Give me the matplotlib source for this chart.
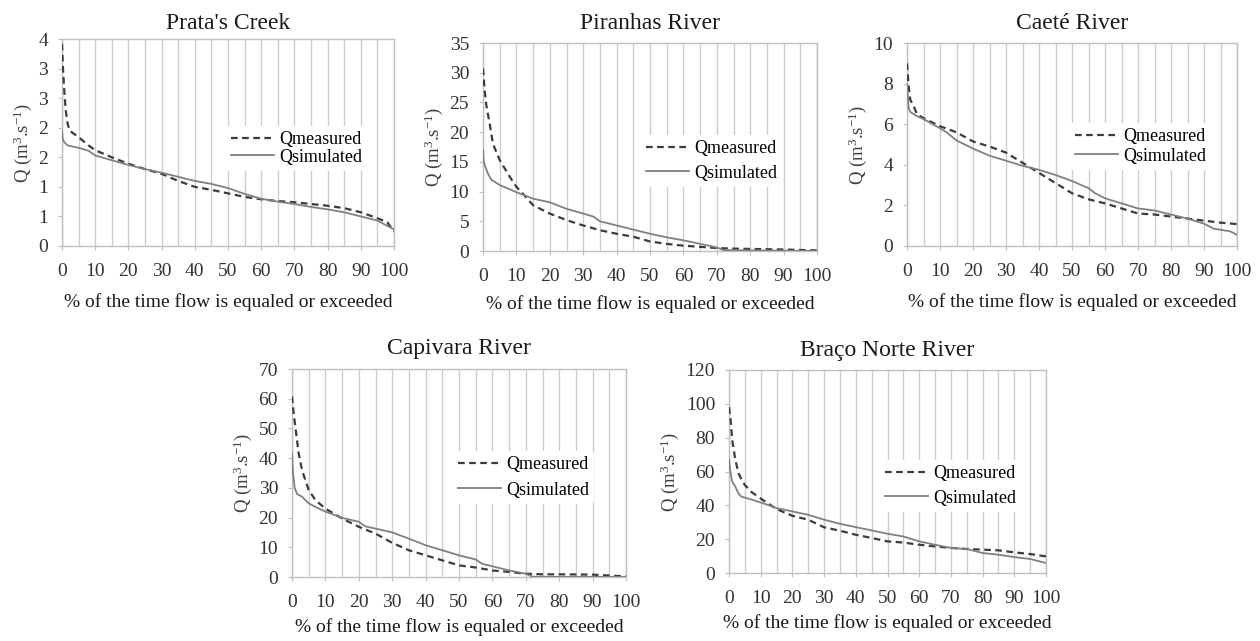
import numpy as np
import matplotlib
matplotlib.use("Agg")
import matplotlib.pyplot as plt
from matplotlib.ticker import FuncFormatter, MultipleLocator

plt.rcParams['font.family'] = ['Liberation Serif', 'DejaVu Serif']
plt.rcParams['mathtext.fontset'] = 'custom'
plt.rcParams['mathtext.rm'] = 'Liberation Serif'
plt.rcParams['mathtext.it'] = 'Liberation Serif:italic'

# ========================= DATA =========================
titles = ["Prata's Creek", "Piranhas River", "Caeté River", "Capivara River", "Braço Norte River"]

# Prata's Creek
prata_x_meas = [0, 0.3, 0.6, 1.1, 1.7, 2.3, 5, 8, 10, 15, 20, 25, 30, 35, 40, 45, 50, 55, 60, 65, 70, 75, 80, 85, 90, 95, 98, 100]
prata_meas = [3.42, 3.0, 2.7, 2.3, 2.07, 1.95, 1.84, 1.7, 1.62, 1.5, 1.39, 1.3, 1.22, 1.1, 1.0, 0.95, 0.89, 0.83, 0.79, 0.76, 0.74, 0.71, 0.68, 0.64, 0.57, 0.47, 0.4, 0.24]
prata_x_sim = [0, 0.2, 0.6, 1.7, 5, 8, 10, 15, 20, 25, 30, 35, 40, 45, 50, 55, 60, 65, 70, 75, 80, 85, 90, 95, 100]
prata_sim = [1.95, 1.82, 1.76, 1.7, 1.66, 1.61, 1.53, 1.45, 1.37, 1.3, 1.24, 1.17, 1.1, 1.05, 0.98, 0.88, 0.8, 0.75, 0.71, 0.66, 0.62, 0.57, 0.5, 0.43, 0.28]

# Piranhas River
piranhas_x_meas = [0, 0.5, 1, 2, 3, 5, 8, 10, 12, 15, 20, 25, 30, 35, 40, 45, 50, 55, 60, 65, 70, 75, 80, 90, 100]
piranhas_meas = [30.7, 27, 24.5, 21.4, 18, 15.3, 12.5, 10.8, 9.6, 7.7, 6.3, 5.2, 4.3, 3.5, 2.9, 2.4, 1.6, 1.2, 0.9, 0.7, 0.5, 0.4, 0.35, 0.25, 0.1]
piranhas_x_sim = [0, 0.2, 0.5, 1.5, 2.5, 5, 10, 15, 20, 25, 30, 33, 35, 40, 45, 50, 55, 60, 65, 70, 72, 80, 90, 100]
piranhas_sim = [17, 15.2, 14.5, 13, 12, 11.1, 9.9, 8.8, 8.2, 7.1, 6.3, 5.8, 5.0, 4.3, 3.6, 2.9, 2.3, 1.8, 1.2, 0.6, 0.15, 0.1, 0.05, 0.0]

# Caeté River
caete_x_meas = [0, 0.5, 1, 2, 3, 5, 10, 15, 20, 25, 30, 35, 40, 45, 50, 55, 60, 65, 70, 75, 80, 85, 90, 95, 100]
caete_meas = [9.0, 7.9, 7.2, 6.9, 6.5, 6.3, 5.9, 5.6, 5.15, 4.9, 4.6, 4.1, 3.6, 3.1, 2.6, 2.3, 2.1, 1.85, 1.6, 1.55, 1.45, 1.35, 1.25, 1.15, 1.08]
caete_x_sim = [0, 0.5, 1, 3, 5, 10, 12, 15, 20, 25, 30, 35, 40, 45, 50, 55, 57, 60, 65, 70, 75, 80, 85, 90, 93, 95, 98, 100]
caete_sim = [8.0, 6.8, 6.6, 6.4, 6.25, 5.8, 5.6, 5.2, 4.8, 4.45, 4.2, 3.95, 3.75, 3.5, 3.2, 2.85, 2.6, 2.35, 2.1, 1.85, 1.75, 1.55, 1.35, 1.1, 0.85, 0.8, 0.72, 0.55]

# Capivara River
capivara_x_meas = [0, 0.5, 1, 2, 3, 4, 5, 7, 10, 15, 20, 25, 30, 35, 40, 45, 50, 55, 60, 65, 70, 75, 80, 90, 95, 100]
capivara_meas = [60.8, 55, 50.6, 41.6, 36, 32.6, 29.3, 25.9, 23, 19.7, 16.9, 14.6, 11.5, 9, 7.3, 5.6, 3.9, 3.2, 2.2, 1.7, 1.1, 0.9, 0.9, 0.8, 0.5, 0.2]
capivara_x_sim = [0, 0.3, 0.8, 1.5, 3, 5, 7, 10, 15, 20, 22, 25, 30, 35, 40, 45, 50, 55, 57, 60, 65, 70, 72, 80, 90, 100]
capivara_sim = [41.6, 35, 30, 28, 27, 24.8, 23.6, 22, 19.9, 18.6, 17, 16.3, 15, 12.9, 10.7, 9, 7.3, 5.9, 4.4, 3.6, 2.2, 1.1, 0.1, 0.05, 0.05, 0.0]

# Braço Norte River
braco_x_meas = [0, 0.5, 1, 2, 3, 4, 5, 7, 10, 15, 20, 25, 30, 35, 40, 45, 50, 55, 60, 65, 70, 75, 80, 85, 90, 95, 100]
braco_meas = [98, 90.5, 78.7, 66.9, 59, 55, 52, 48, 44, 37.8, 33.8, 31.5, 27, 25, 22.6, 20.7, 18.7, 18, 16.7, 15.7, 14.8, 14.2, 13.8, 13.4, 12.2, 11.2, 9.8]
braco_x_sim = [0, 0.5, 1, 2, 3, 4, 5, 10, 15, 20, 25, 30, 35, 40, 45, 50, 55, 60, 65, 70, 75, 80, 85, 90, 95, 100]
braco_sim = [67, 59, 54, 51, 47, 45, 44.6, 41.7, 38.4, 36.4, 34.4, 31.5, 29.1, 27.1, 25.2, 23.2, 21.6, 18.7, 16.7, 14.8, 14.2, 11.8, 10.8, 9.4, 8.3, 5.9]

y_max = [3.5, 35, 10, 70, 120]
y_step = [0.5, 5, 2, 10, 20]

series = [
    (prata_x_meas, prata_meas, prata_x_sim, prata_sim),
    (piranhas_x_meas, piranhas_meas, piranhas_x_sim, piranhas_sim),
    (caete_x_meas, caete_meas, caete_x_sim, caete_sim),
    (capivara_x_meas, capivara_meas, capivara_x_sim, capivara_sim),
    (braco_x_meas, braco_meas, braco_x_sim, braco_sim),
]

# ===================== LAYOUT (pixels) =====================
W, H = 1260, 641
# left, right, top, bottom of each plot area
boxes = [(62, 394, 39, 246), (483, 817, 43, 251), (907, 1237, 43, 246),
         (292, 626, 369, 577), (729, 1046, 370, 573)]
# legend: handle start x, row1 y, row2 y
legend_px = [(231, 138, 159), (646, 147, 175), (1075, 135, 158),
             (458, 463, 492), (885, 472, 500)]
title_pad = [7, 10, 10, 11, 10]
xlabel_pad = [9, 7, 9, 5, 5]

fig = plt.figure(figsize=(W / 100, H / 100), dpi=100)
fs_leg = 13
text_col = '#333333'

for i in range(5):
    l, r, t, b = boxes[i]
    ax = fig.add_axes([l / W, 1 - b / H, (r - l) / W, (b - t) / H])
    xm, m, xs, s = series[i]
    ax.plot(xm, m, color='#3c3c3c', lw=1.6, ls=(0, (3, 2)), label='Qmeasured', zorder=3)
    ax.plot(xs, s, color='#808080', lw=1.3, label='Qsimulated', zorder=3)

    ax.set_xlim(0, 100)
    ax.set_ylim(0, y_max[i])
    ax.xaxis.set_major_locator(MultipleLocator(10))
    ax.xaxis.set_minor_locator(MultipleLocator(5))
    ax.yaxis.set_major_locator(MultipleLocator(y_step[i]))
    if i == 0:
        # Excel style rounding to 0 decimals
        ax.yaxis.set_major_formatter(FuncFormatter(lambda v, p: str(int(np.floor(v + 0.5)))))
    ax.grid(True, axis='x', which='both', color='#cdcdcd', lw=1.0, zorder=0)
    for sp in ax.spines.values():
        sp.set_color('#c0c0c0')
        sp.set_linewidth(1.0)
    ax.tick_params(axis='x', which='major', length=3, color='#c0c0c0', pad=9.5, labelsize=14, labelcolor=text_col)
    ax.tick_params(axis='x', which='minor', length=0)
    ax.tick_params(axis='y', length=3, color='#c0c0c0', pad=7, labelsize=14, labelcolor=text_col)

    ax.set_title(titles[i], fontsize=17, color='#1a1a1a', pad=title_pad[i])
    ax.set_xlabel('% of the time flow is equaled or exceeded', fontsize=14, color='#1a1a1a',
                  labelpad=xlabel_pad[i])
    ax.set_ylabel(r'Q (m$^3$.s$^{-1}$)', fontsize=13.5, color='#404040', labelpad=3)

    hx, r1, r2 = legend_px[i]
    pitch = r2 - r1
    fs_px = fs_leg * 100 / 72
    spacing = (pitch - fs_px * 1.15) / fs_px
    pad = 0.3
    ax.legend(loc='center left', frameon=True, facecolor='white', edgecolor='none', framealpha=1,
              fontsize=fs_leg, handlelength=2.4, handletextpad=0.25, borderpad=pad,
              labelspacing=spacing, borderaxespad=0,
              bbox_to_anchor=((hx - l - pad * fs_px) / (r - l), (b - (r1 + r2) / 2) / (b - t)))

fig.savefig('out.png', dpi=100)
